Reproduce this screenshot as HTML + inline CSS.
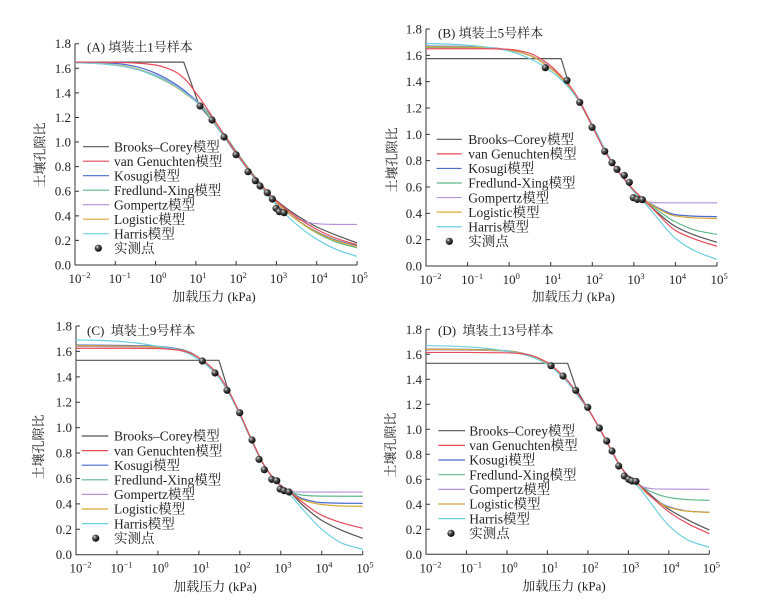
<!DOCTYPE html>
<html><head><meta charset="utf-8"><style>
html,body{margin:0;padding:0;background:#fff;}
svg{display:block;}
.ax{stroke:#333;stroke-width:1;fill:none;}
.c{fill:none;stroke-width:1.2;vector-effect:non-scaling-stroke;stroke-linejoin:round;}
.t{font-family:"Liberation Serif","Noto Serif CJK SC",serif;font-size:13px;fill:#222;}
.yl{text-anchor:end;}
.lg{font-family:"Liberation Serif","Noto Serif CJK SC",serif;font-size:13.5px;fill:#222;}
.bc{stroke:#555;} .vg{stroke:#e84a5a;} .ko{stroke:#4a6bd0;} .fx{stroke:#5fb88a;}
.go{stroke:#b592d8;} .lo{stroke:#d8a830;} .ha{stroke:#6cd0de;}
</style></head><body>
<svg width="776" height="601" viewBox="0 0 776 601" xmlns="http://www.w3.org/2000/svg">
<defs>
<radialGradient id="ball" cx="0.35" cy="0.33" r="0.7">
<stop offset="0" stop-color="#e0e0e0"/><stop offset="0.35" stop-color="#555"/><stop offset="1" stop-color="#000"/>
</radialGradient>
</defs>
<rect width="776" height="601" fill="#fff"/>

<!-- ================= PANEL A ================= -->
<g>
<path class="ax" d="M75,43.7 V265 H357"/>
<path class="ax" d="M75,240.41h4M75,215.82h4M75,191.23h4M75,166.65h4M75,142.06h4M75,117.47h4M75,92.88h4M75,68.29h4M75,43.7h4"/>
<path class="ax" d="M115.29,265v-4M155.57,265v-4M195.86,265v-4M236.14,265v-4M276.43,265v-4M316.71,265v-4M357,265v-4"/>
<g class="t yl">
<text x="71" y="269.5">0.0</text><text x="71" y="244.9">0.2</text><text x="71" y="220.3">0.4</text><text x="71" y="195.7">0.6</text><text x="71" y="171.1">0.8</text><text x="71" y="146.6">1.0</text><text x="71" y="122">1.2</text><text x="71" y="97.4">1.4</text><text x="71" y="72.8">1.6</text><text x="71" y="48.2">1.8</text>
</g>
<g class="t">
<text x="68.5" y="283">10<tspan font-size="8.5" dy="-5">−2</tspan></text>
<text x="108.8" y="283">10<tspan font-size="8.5" dy="-5">−1</tspan></text>
<text x="149.1" y="283">10<tspan font-size="8.5" dy="-5">0</tspan></text>
<text x="189.4" y="283">10<tspan font-size="8.5" dy="-5">1</tspan></text>
<text x="229.6" y="283">10<tspan font-size="8.5" dy="-5">2</tspan></text>
<text x="269.9" y="283">10<tspan font-size="8.5" dy="-5">3</tspan></text>
<text x="310.2" y="283">10<tspan font-size="8.5" dy="-5">4</tspan></text>
<text x="350.5" y="283">10<tspan font-size="8.5" dy="-5">5</tspan></text>
</g>
<text class="t" x="87" y="51.5">(A) 填装土1号样本</text>
<text class="t" text-anchor="middle" dominant-baseline="central" transform="translate(40,155) rotate(-90)">土壤孔隙比</text>
<text class="t" text-anchor="middle" dominant-baseline="central" x="214" y="296.5">加载压力 (kPa)</text>

<g transform="translate(75,265) scale(40.2857,-122.944)">
<polyline class="c bc" points="0,1.65 2.7,1.65 3.08,1.30 3.4,1.175 3.7,1.045 4,0.905 4.3,0.775 4.6,0.655 5,0.525 5.5,0.405 6,0.31 6.5,0.24 7,0.18"/>
<polyline class="c ko" points="0,1.65 0.5,1.647 1,1.64 1.5,1.615 2,1.56 2.5,1.47 2.75,1.41 3,1.34 3.2,1.28 3.4,1.20 3.7,1.06 4,0.915 4.3,0.78 4.6,0.655 5,0.51 5.5,0.37 6,0.27 6.5,0.2 7,0.155"/>
<polyline class="c fx" points="0,1.648 0.5,1.64 1,1.625 1.5,1.595 2,1.535 2.5,1.45 2.75,1.395 3,1.335 3.2,1.275 3.4,1.195 3.7,1.065 4,0.925 4.3,0.79 4.6,0.665 5,0.515 5.5,0.37 6,0.26 6.5,0.185 7,0.14"/>
<polyline class="c go" points="0,1.645 0.5,1.64 1,1.627 1.5,1.598 2,1.545 2.5,1.46 2.75,1.40 3,1.335 3.2,1.27 3.4,1.19 3.7,1.055 4,0.915 4.3,0.775 4.6,0.645 5,0.50 5.3,0.42 5.6,0.365 5.9,0.34 6.2,0.332 6.6,0.33 7,0.33"/>
<polyline class="c lo" points="0,1.648 0.5,1.642 1,1.628 1.5,1.60 2,1.54 2.5,1.45 2.75,1.39 3,1.33 3.2,1.27 3.4,1.19 3.7,1.055 4,0.915 4.3,0.78 4.6,0.655 5,0.51 5.5,0.37 6,0.265 6.5,0.195 7,0.15"/>
<polyline class="c ha" points="0,1.645 0.5,1.64 1,1.625 1.5,1.595 2,1.54 2.5,1.455 2.75,1.395 3,1.33 3.2,1.265 3.4,1.18 3.7,1.05 4,0.91 4.3,0.77 4.6,0.64 5,0.49 5.5,0.33 6,0.21 6.5,0.125 7,0.07"/>
<polyline class="c vg" points="0,1.65 1,1.648 1.5,1.643 2,1.627 2.25,1.605 2.5,1.57 2.75,1.505 3,1.40 3.2,1.31 3.4,1.21 3.7,1.06 4,0.915 4.3,0.78 4.6,0.66 5,0.52 5.5,0.39 6,0.29 6.5,0.215 7,0.165"/>
</g>
<g fill="url(#ball)">
<circle cx="200" cy="106" r="3.6"/><circle cx="212" cy="120" r="3.6"/><circle cx="224" cy="137" r="3.6"/><circle cx="236" cy="154.7" r="3.6"/><circle cx="248" cy="171.7" r="3.6"/><circle cx="255.3" cy="180.7" r="3.6"/><circle cx="260" cy="186" r="3.6"/><circle cx="267.3" cy="192.7" r="3.6"/><circle cx="272.3" cy="199" r="3.6"/><circle cx="276" cy="208.3" r="3.6"/><circle cx="279.3" cy="211.7" r="3.6"/><circle cx="284" cy="212.7" r="3.6"/>
</g>
<g>
<path class="c bc" d="M83,146.7H109"/><path class="c vg" d="M83,161.2H109"/><path class="c ko" d="M83,175.7H109"/><path class="c fx" d="M83,190.2H109"/><path class="c go" d="M83,204.7H109"/><path class="c lo" d="M83,219.2H109"/><path class="c ha" d="M83,233.7H109"/>
<circle cx="98.3" cy="248.2" r="3.6" fill="url(#ball)"/>
<g class="lg">
<text x="114" y="151.4">Brooks–Corey模型</text><text x="114" y="165.9">van Genuchten模型</text><text x="114" y="180.4">Kosugi模型</text><text x="114" y="194.9">Fredlund-Xing模型</text><text x="114" y="209.4">Gompertz模型</text><text x="114" y="223.9">Logistic模型</text><text x="114" y="238.4">Harris模型</text><text x="114" y="252.9">实测点</text>
</g>
</g>
</g>

<!-- ================= PANEL B ================= -->
<g>
<path class="ax" d="M426,29 V266 H717"/>
<path class="ax" d="M426,239.67h4M426,213.33h4M426,187h4M426,160.67h4M426,134.33h4M426,108h4M426,81.67h4M426,55.33h4M426,29h4"/>
<path class="ax" d="M467.57,266v-4M509.14,266v-4M550.71,266v-4M592.29,266v-4M633.86,266v-4M675.43,266v-4M717,266v-4"/>
<g class="t yl">
<text x="422" y="270.5">0.0</text><text x="422" y="244.2">0.2</text><text x="422" y="217.8">0.4</text><text x="422" y="191.5">0.6</text><text x="422" y="165.2">0.8</text><text x="422" y="138.8">1.0</text><text x="422" y="112.5">1.2</text><text x="422" y="86.2">1.4</text><text x="422" y="59.8">1.6</text><text x="422" y="33.5">1.8</text>
</g>
<g class="t">
<text x="419.5" y="284">10<tspan font-size="8.5" dy="-5">−2</tspan></text>
<text x="461.1" y="284">10<tspan font-size="8.5" dy="-5">−1</tspan></text>
<text x="502.6" y="284">10<tspan font-size="8.5" dy="-5">0</tspan></text>
<text x="544.2" y="284">10<tspan font-size="8.5" dy="-5">1</tspan></text>
<text x="585.8" y="284">10<tspan font-size="8.5" dy="-5">2</tspan></text>
<text x="627.4" y="284">10<tspan font-size="8.5" dy="-5">3</tspan></text>
<text x="668.9" y="284">10<tspan font-size="8.5" dy="-5">4</tspan></text>
<text x="710.5" y="284">10<tspan font-size="8.5" dy="-5">5</tspan></text>
</g>
<text class="t" x="438" y="37.5">(B) 填装土5号样本</text>
<text class="t" text-anchor="middle" dominant-baseline="central" transform="translate(392,160) rotate(-90)">土壤孔隙比</text>
<text class="t" text-anchor="middle" dominant-baseline="central" x="573.3" y="296.7">加载压力 (kPa)</text>

<g transform="translate(426,266) scale(41.5714,-131.667)">
<polyline class="c bc" points="0,1.575 3.25,1.575 3.45,1.37 3.7,1.24 4,1.06 4.3,0.875 4.6,0.725 4.8,0.645 5,0.57 5.2,0.51 5.5,0.425 6,0.30 6.5,0.23 7,0.18"/>
<polyline class="c ko" points="0,1.67 0.5,1.669 1,1.667 1.5,1.66 2,1.64 2.5,1.598 3,1.50 3.3,1.415 3.5,1.34 3.7,1.245 4,1.065 4.3,0.88 4.6,0.73 4.8,0.65 5,0.575 5.2,0.515 5.5,0.455 6,0.39 6.5,0.378 7,0.375"/>
<polyline class="c fx" points="0,1.66 1,1.659 1.5,1.655 2,1.64 2.5,1.60 3,1.505 3.3,1.42 3.5,1.345 3.7,1.25 4,1.065 4.3,0.88 4.6,0.73 4.8,0.65 5,0.575 5.2,0.515 5.5,0.44 6,0.335 6.5,0.27 7,0.24"/>
<polyline class="c go" points="0,1.665 1,1.664 1.5,1.66 2,1.642 2.5,1.60 3,1.505 3.3,1.42 3.5,1.345 3.7,1.25 4,1.065 4.3,0.875 4.6,0.725 4.8,0.645 5,0.57 5.2,0.505 5.35,0.485 5.6,0.48 7,0.48"/>
<polyline class="c lo" points="0,1.665 1,1.663 1.5,1.657 2,1.64 2.5,1.598 3,1.50 3.3,1.415 3.5,1.34 3.7,1.245 4,1.065 4.3,0.88 4.6,0.73 4.8,0.65 5,0.575 5.2,0.515 5.5,0.45 6,0.38 6.5,0.365 7,0.36"/>
<polyline class="c ha" points="0,1.69 0.5,1.686 1,1.677 1.5,1.66 2,1.632 2.5,1.575 3,1.48 3.3,1.40 3.5,1.33 3.7,1.24 4,1.075 4.3,0.89 4.6,0.73 4.8,0.645 5,0.565 5.2,0.50 5.5,0.39 6,0.21 6.5,0.11 7,0.05"/>
<polyline class="c vg" points="0,1.65 1.5,1.65 2,1.645 2.5,1.615 2.8,1.565 3,1.52 3.3,1.425 3.5,1.35 3.7,1.25 4,1.065 4.3,0.875 4.6,0.73 4.8,0.65 5,0.575 5.2,0.515 5.5,0.42 6,0.27 6.5,0.2 7,0.15"/>
</g>
<g fill="url(#ball)">
<circle cx="545.3" cy="67.7" r="3.6"/><circle cx="567" cy="80.3" r="3.6"/><circle cx="579.7" cy="102.3" r="3.6"/><circle cx="592" cy="127.3" r="3.6"/><circle cx="604.7" cy="151.3" r="3.6"/><circle cx="612" cy="162.7" r="3.6"/><circle cx="617" cy="169.3" r="3.6"/><circle cx="624.3" cy="175.3" r="3.6"/><circle cx="629.3" cy="182.3" r="3.6"/><circle cx="633.3" cy="197.7" r="3.6"/><circle cx="637.3" cy="199.3" r="3.6"/><circle cx="642.3" cy="199.7" r="3.6"/>
</g>
<g>
<path class="c bc" d="M436.7,139.3H461.7"/><path class="c vg" d="M436.7,153.87H461.7"/><path class="c ko" d="M436.7,168.44H461.7"/><path class="c fx" d="M436.7,183.01H461.7"/><path class="c go" d="M436.7,197.58H461.7"/><path class="c lo" d="M436.7,212.15H461.7"/><path class="c ha" d="M436.7,226.72H461.7"/>
<circle cx="449.3" cy="241.29" r="3.6" fill="url(#ball)"/>
<g class="lg">
<text x="468.3" y="144">Brooks–Corey模型</text><text x="468.3" y="158.6">van Genuchten模型</text><text x="468.3" y="173.1">Kosugi模型</text><text x="468.3" y="187.7">Fredlund-Xing模型</text><text x="468.3" y="202.3">Gompertz模型</text><text x="468.3" y="216.9">Logistic模型</text><text x="468.3" y="231.4">Harris模型</text><text x="468.3" y="246">实测点</text>
</g>
</g>
</g>

<!-- ================= PANEL C ================= -->
<g>
<path class="ax" d="M76,326 V554.7 H362.7"/>
<path class="ax" d="M76,529.29h4M76,503.88h4M76,478.47h4M76,453.06h4M76,427.65h4M76,402.23h4M76,376.82h4M76,351.41h4M76,326h4"/>
<path class="ax" d="M116.96,554.7v-4M157.91,554.7v-4M198.87,554.7v-4M239.83,554.7v-4M280.79,554.7v-4M321.74,554.7v-4M362.7,554.7v-4"/>
<g class="t yl">
<text x="72" y="559.2">0.0</text><text x="72" y="533.8">0.2</text><text x="72" y="508.4">0.4</text><text x="72" y="483">0.6</text><text x="72" y="457.6">0.8</text><text x="72" y="432.2">1.0</text><text x="72" y="406.7">1.2</text><text x="72" y="381.3">1.4</text><text x="72" y="355.9">1.6</text><text x="72" y="330.5">1.8</text>
</g>
<g class="t">
<text x="69.5" y="572.7">10<tspan font-size="8.5" dy="-5">−2</tspan></text>
<text x="110.5" y="572.7">10<tspan font-size="8.5" dy="-5">−1</tspan></text>
<text x="151.4" y="572.7">10<tspan font-size="8.5" dy="-5">0</tspan></text>
<text x="192.4" y="572.7">10<tspan font-size="8.5" dy="-5">1</tspan></text>
<text x="233.3" y="572.7">10<tspan font-size="8.5" dy="-5">2</tspan></text>
<text x="274.3" y="572.7">10<tspan font-size="8.5" dy="-5">3</tspan></text>
<text x="315.2" y="572.7">10<tspan font-size="8.5" dy="-5">4</tspan></text>
<text x="356.2" y="572.7">10<tspan font-size="8.5" dy="-5">5</tspan></text>
</g>
<text class="t" x="87" y="335" style="white-space:pre">(C)  填装土9号样本</text>
<text class="t" text-anchor="middle" dominant-baseline="central" transform="translate(38.5,447) rotate(-90)">土壤孔隙比</text>
<text class="t" text-anchor="middle" dominant-baseline="central" x="215" y="586.7">加载压力 (kPa)</text>

<g transform="translate(76,554.7) scale(40.957,-127.056)">
<polyline class="c bc" points="0,1.53 3.49,1.53 3.7,1.31 4,1.11 4.3,0.895 4.6,0.70 4.8,0.61 5,0.545 5.2,0.50 5.5,0.40 6,0.27 6.5,0.19 7,0.129"/>
<polyline class="c ko" points="0,1.65 1,1.648 1.5,1.645 2,1.64 2.5,1.62 2.8,1.59 3,1.55 3.3,1.475 3.5,1.405 3.7,1.30 4,1.11 4.3,0.895 4.6,0.70 4.8,0.61 5,0.545 5.2,0.50 5.5,0.445 6,0.41 6.5,0.405 7,0.404"/>
<polyline class="c fx" points="0,1.64 1,1.638 2,1.632 2.5,1.613 2.8,1.585 3,1.548 3.3,1.473 3.5,1.403 3.7,1.30 4,1.11 4.3,0.895 4.6,0.70 4.8,0.61 5,0.545 5.2,0.50 5.5,0.47 6,0.461 7,0.46"/>
<polyline class="c go" points="0,1.64 1,1.638 2,1.632 2.5,1.613 2.8,1.585 3,1.548 3.3,1.473 3.5,1.403 3.7,1.30 4,1.11 4.3,0.895 4.6,0.70 4.8,0.61 5,0.545 5.2,0.505 5.35,0.495 5.6,0.493 7,0.493"/>
<polyline class="c lo" points="0,1.645 1,1.643 2,1.635 2.5,1.615 2.8,1.587 3,1.55 3.3,1.475 3.5,1.405 3.7,1.30 4,1.11 4.3,0.895 4.6,0.70 4.8,0.61 5,0.545 5.2,0.50 5.5,0.435 6,0.395 6.5,0.383 7,0.381"/>
<polyline class="c ha" points="0,1.69 0.5,1.688 1,1.68 1.5,1.665 2,1.64 2.4,1.62 2.7,1.59 3,1.535 3.3,1.46 3.5,1.39 3.7,1.29 4,1.10 4.3,0.885 4.6,0.695 4.8,0.605 5,0.535 5.2,0.48 5.5,0.37 6,0.2 6.5,0.09 7,0.042"/>
<polyline class="c vg" points="0,1.625 1,1.625 2,1.623 2.5,1.61 2.8,1.585 3,1.55 3.3,1.475 3.5,1.405 3.7,1.305 4,1.11 4.3,0.895 4.6,0.70 4.8,0.61 5,0.545 5.2,0.50 5.5,0.42 6,0.31 6.5,0.25 7,0.208"/>
</g>
<g fill="url(#ball)">
<circle cx="202.3" cy="361" r="3.6"/><circle cx="215" cy="373" r="3.6"/><circle cx="227" cy="390.3" r="3.6"/><circle cx="239.7" cy="412.7" r="3.6"/><circle cx="252" cy="440" r="3.6"/><circle cx="259" cy="459.3" r="3.6"/><circle cx="264.3" cy="469.7" r="3.6"/><circle cx="271.7" cy="479.3" r="3.6"/><circle cx="276.7" cy="480.7" r="3.6"/><circle cx="280" cy="489" r="3.6"/><circle cx="284" cy="490.7" r="3.6"/><circle cx="289" cy="492" r="3.6"/>
</g>
<g>
<path class="c bc" d="M81.7,436H108.3"/><path class="c vg" d="M81.7,450.6H108.3"/><path class="c ko" d="M81.7,465.2H108.3"/><path class="c fx" d="M81.7,479.8H108.3"/><path class="c go" d="M81.7,494.4H108.3"/><path class="c lo" d="M81.7,509H108.3"/><path class="c ha" d="M81.7,523.6H108.3"/>
<circle cx="95.7" cy="538.2" r="3.6" fill="url(#ball)"/>
<g class="lg">
<text x="114" y="440.7">Brooks–Corey模型</text><text x="114" y="455.3">van Genuchten模型</text><text x="114" y="469.9">Kosugi模型</text><text x="114" y="484.5">Fredlund-Xing模型</text><text x="114" y="499.1">Gompertz模型</text><text x="114" y="513.7">Logistic模型</text><text x="114" y="528.3">Harris模型</text><text x="114" y="542.9">实测点</text>
</g>
</g>
</g>

<!-- ================= PANEL D ================= -->
<g>
<path class="ax" d="M426,329.3 V554.3 H709.3"/>
<path class="ax" d="M426,529.3h4M426,504.3h4M426,479.3h4M426,454.3h4M426,429.3h4M426,404.3h4M426,379.3h4M426,354.3h4M426,329.3h4"/>
<path class="ax" d="M466.47,554.3v-4M506.94,554.3v-4M547.41,554.3v-4M587.89,554.3v-4M628.36,554.3v-4M668.83,554.3v-4M709.3,554.3v-4"/>
<g class="t yl">
<text x="422" y="558.8">0.0</text><text x="422" y="533.8">0.2</text><text x="422" y="508.8">0.4</text><text x="422" y="483.8">0.6</text><text x="422" y="458.8">0.8</text><text x="422" y="433.8">1.0</text><text x="422" y="408.8">1.2</text><text x="422" y="383.8">1.4</text><text x="422" y="358.8">1.6</text><text x="422" y="333.8">1.8</text>
</g>
<g class="t">
<text x="419.5" y="572.3">10<tspan font-size="8.5" dy="-5">−2</tspan></text>
<text x="460" y="572.3">10<tspan font-size="8.5" dy="-5">−1</tspan></text>
<text x="500.4" y="572.3">10<tspan font-size="8.5" dy="-5">0</tspan></text>
<text x="540.9" y="572.3">10<tspan font-size="8.5" dy="-5">1</tspan></text>
<text x="581.4" y="572.3">10<tspan font-size="8.5" dy="-5">2</tspan></text>
<text x="621.9" y="572.3">10<tspan font-size="8.5" dy="-5">3</tspan></text>
<text x="662.3" y="572.3">10<tspan font-size="8.5" dy="-5">4</tspan></text>
<text x="702.8" y="572.3">10<tspan font-size="8.5" dy="-5">5</tspan></text>
</g>
<text class="t" x="438" y="335" style="white-space:pre">(D)  填装土13号样本</text>
<text class="t" text-anchor="middle" dominant-baseline="central" transform="translate(390.5,445) rotate(-90)">土壤孔隙比</text>
<text class="t" text-anchor="middle" dominant-baseline="central" x="564" y="586">加载压力 (kPa)</text>

<g transform="translate(426,554.3) scale(40.471,-125)">
<polyline class="c bc" points="0,1.528 3.5,1.528 3.72,1.32 4,1.165 4.3,1.0 4.6,0.82 4.8,0.705 5,0.625 5.2,0.575 5.5,0.49 6,0.36 6.5,0.27 7,0.194"/>
<polyline class="c ko" points="0,1.642 1,1.64 1.5,1.637 2,1.628 2.5,1.60 3,1.53 3.3,1.45 3.5,1.385 3.7,1.30 4,1.165 4.3,1.0 4.6,0.82 4.8,0.705 5,0.625 5.2,0.575 5.5,0.48 6,0.38 6.5,0.345 7,0.336"/>
<polyline class="c fx" points="0,1.635 1,1.634 2,1.625 2.5,1.598 3,1.53 3.3,1.45 3.5,1.385 3.7,1.30 4,1.165 4.3,1.0 4.6,0.82 4.8,0.705 5,0.625 5.2,0.575 5.5,0.51 6,0.455 6.5,0.437 7,0.432"/>
<polyline class="c go" points="0,1.635 1,1.634 2,1.625 2.5,1.598 3,1.53 3.3,1.45 3.5,1.385 3.7,1.30 4,1.165 4.3,1.0 4.6,0.82 4.8,0.705 5,0.625 5.2,0.57 5.4,0.535 5.7,0.522 7,0.52"/>
<polyline class="c lo" points="0,1.64 1,1.638 1.5,1.635 2,1.626 2.5,1.598 3,1.53 3.3,1.45 3.5,1.385 3.7,1.30 4,1.165 4.3,1.0 4.6,0.82 4.8,0.705 5,0.625 5.2,0.575 5.5,0.475 6,0.375 6.5,0.343 7,0.335"/>
<polyline class="c ha" points="0,1.67 0.5,1.667 1,1.66 1.5,1.648 2,1.625 2.5,1.59 3,1.52 3.3,1.44 3.5,1.375 3.7,1.29 4,1.16 4.3,0.995 4.6,0.815 4.8,0.70 5,0.62 5.3,0.52 5.6,0.39 6,0.23 6.5,0.11 7,0.056"/>
<polyline class="c vg" points="0,1.615 1,1.615 2,1.612 2.5,1.598 3,1.535 3.3,1.455 3.5,1.39 3.7,1.305 4,1.165 4.3,1.0 4.6,0.82 4.8,0.705 5,0.625 5.2,0.575 5.5,0.48 6,0.34 6.5,0.24 7,0.165"/>
</g>
<g fill="url(#ball)">
<circle cx="551" cy="365.7" r="3.6"/><circle cx="563" cy="376" r="3.6"/><circle cx="575.7" cy="390.3" r="3.6"/><circle cx="587.7" cy="407.3" r="3.6"/><circle cx="599.3" cy="428" r="3.6"/><circle cx="606.7" cy="441" r="3.6"/><circle cx="612" cy="451" r="3.6"/><circle cx="618.7" cy="466" r="3.6"/><circle cx="624.3" cy="476" r="3.6"/><circle cx="628.7" cy="479.3" r="3.6"/><circle cx="632" cy="481" r="3.6"/><circle cx="636" cy="481.3" r="3.6"/>
</g>
<g>
<path class="c bc" d="M438.3,430.7H465"/><path class="c vg" d="M438.3,445.36H465"/><path class="c ko" d="M438.3,460.02H465"/><path class="c fx" d="M438.3,474.68H465"/><path class="c go" d="M438.3,489.34H465"/><path class="c lo" d="M438.3,504H465"/><path class="c ha" d="M438.3,518.66H465"/>
<circle cx="451" cy="533.32" r="3.6" fill="url(#ball)"/>
<g class="lg">
<text x="469.3" y="435.4">Brooks–Corey模型</text><text x="469.3" y="450.1">van Genuchten模型</text><text x="469.3" y="464.7">Kosugi模型</text><text x="469.3" y="479.4">Fredlund-Xing模型</text><text x="469.3" y="494">Gompertz模型</text><text x="469.3" y="508.7">Logistic模型</text><text x="469.3" y="523.4">Harris模型</text><text x="469.3" y="538">实测点</text>
</g>
</g>
</g>
</svg>
<script>
(function(){
  var pls = document.querySelectorAll('polyline.c');
  for (var k = 0; k < pls.length; k++) {
    var pl = pls[k];
    var pts = pl.getAttribute('points').trim().split(/\s+/).map(function(s){return s.split(',').map(Number);});
    var d = 'M' + pts[0][0] + ',' + pts[0][1];
    var start = 0;
    if (pl.classList.contains('bc')) {
      d += ' L' + pts[1][0] + ',' + pts[1][1] + ' L' + pts[2][0] + ',' + pts[2][1];
      start = 2;
    }
    var P = pts.slice(start), n = P.length;
    if (n < 2) continue;
    var h = [], dk = [], m = [];
    for (var i = 0; i < n - 1; i++) { h[i] = P[i+1][0] - P[i][0]; dk[i] = (P[i+1][1] - P[i][1]) / h[i]; }
    m[0] = dk[0]; m[n-1] = dk[n-2];
    for (var i = 1; i < n - 1; i++) {
      if (dk[i-1] * dk[i] <= 0) m[i] = 0;
      else { var h0 = h[i-1], h1 = h[i]; m[i] = 3*(h0+h1) / ((2*h1+h0)/dk[i-1] + (h1+2*h0)/dk[i]); }
    }
    for (var i = 0; i < n - 1; i++) {
      var hh = h[i] / 3;
      d += ' C' + (P[i][0]+hh) + ',' + (P[i][1]+m[i]*hh) + ' ' + (P[i+1][0]-hh) + ',' + (P[i+1][1]-m[i+1]*hh) + ' ' + P[i+1][0] + ',' + P[i+1][1];
    }
    var p = document.createElementNS('http://www.w3.org/2000/svg', 'path');
    p.setAttribute('class', pl.getAttribute('class'));
    p.setAttribute('d', d);
    pl.parentNode.replaceChild(p, pl);
  }
})();
</script>
</body></html>
